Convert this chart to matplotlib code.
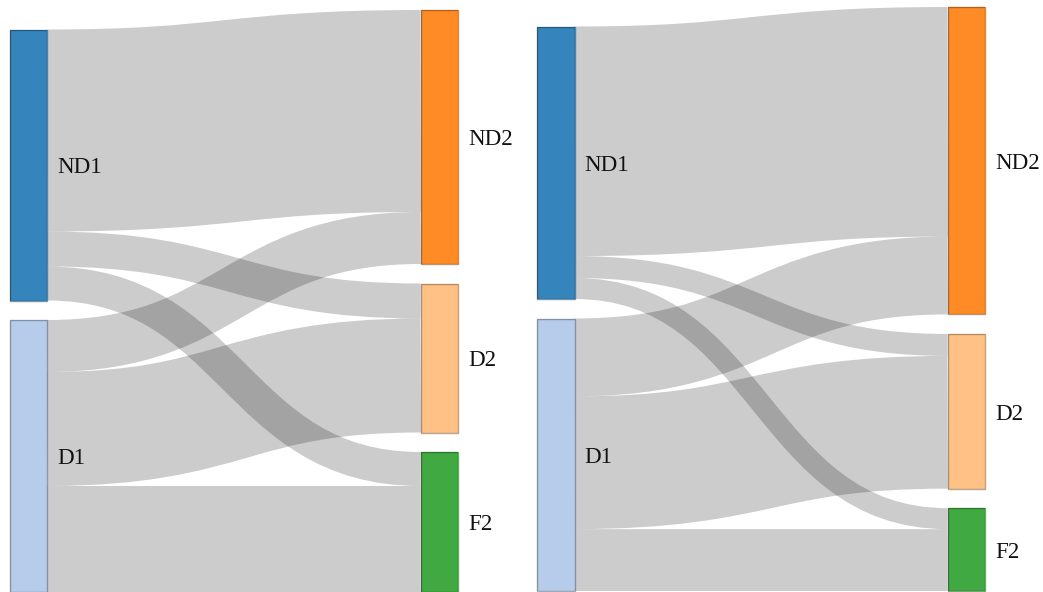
import matplotlib
matplotlib.use("Agg")
import matplotlib.pyplot as plt
from matplotlib.path import Path
from matplotlib.patches import PathPatch, Rectangle
from matplotlib.colors import to_rgb

# ---- data ---------------------------------------------------------------
source_nodes = ["ND1", "D1"]
target_nodes = ["ND2", "D2", "F2"]
link_sources = ["ND1", "ND1", "ND1", "D1", "D1", "D1"]
link_targets = ["ND2", "D2", "F2", "ND2", "D2", "F2"]
flows_first = [202, 35, 34, 52, 114, 106]
flows_second = [230, 22, 21, 78, 133, 62]

node_colors = {
    "ND1": "#1f77b4",
    "D1": "#aec7e8",
    "ND2": "#ff7f0e",
    "D2": "#ffbb78",
    "F2": "#2ca02c",
}

# ---- layout -------------------------------------------------------------
W, H, DPI = 1043, 592, 100
NODE_W = 37.5
PAD = 19.5
FONT_PX = 23
panels = [
    dict(flows=flows_first, x0=9.5, x1=458.0, y0=10.0, y1=592.0),
    dict(flows=flows_second, x0=537.0, x1=985.0, y0=7.0, y1=591.0),
]

fig = plt.figure(figsize=(W / DPI, H / DPI), dpi=DPI)
ax = fig.add_axes([0, 0, 1, 1])
ax.set_xlim(0, W)
ax.set_ylim(H, 0)
ax.axis("off")


def darker(c, k=2):
    f = 0.7 ** k
    return tuple(v * f for v in to_rgb(c))


def draw_sankey(flows, x0, x1, y0, y1):
    out_tot = {n: 0 for n in source_nodes}
    in_tot = {n: 0 for n in target_nodes}
    for s, t, v in zip(link_sources, link_targets, flows):
        out_tot[s] += v
        in_tot[t] += v

    # vertical scale so the target column fills the extent
    ky = (y1 - y0 - PAD * (len(target_nodes) - 1)) / sum(in_tot.values())

    # target column stacked from the top
    ypos = {}
    y = y0
    for n in target_nodes:
        ypos[n] = (y, y + in_tot[n] * ky)
        y += in_tot[n] * ky + PAD
    # source column aligned to the bottom
    y = y1
    for n in reversed(source_nodes):
        ypos[n] = (y - out_tot[n] * ky, y)
        y -= out_tot[n] * ky + PAD

    xs = {n: x0 for n in source_nodes}
    xs.update({n: x1 - NODE_W for n in target_nodes})

    # links
    s_off = {n: ypos[n][0] for n in source_nodes}
    t_off = {n: ypos[n][0] for n in target_nodes}
    for s, t, v in zip(link_sources, link_targets, flows):
        w = v * ky
        ys = s_off[s] + w / 2
        yt = t_off[t] + w / 2
        s_off[s] += w
        t_off[t] += w
        xa = xs[s] + NODE_W
        xb = xs[t]
        xm = (xa + xb) / 2
        path = Path([(xa, ys), (xm, ys), (xm, yt), (xb, yt)],
                    [Path.MOVETO, Path.CURVE4, Path.CURVE4, Path.CURVE4])
        ax.add_patch(PathPatch(path, facecolor="none", edgecolor="black",
                               alpha=0.2, lw=w * 72 / DPI,
                               capstyle="butt", zorder=1))

    # nodes and labels
    for n in source_nodes + target_nodes:
        ya, yb = ypos[n]
        ax.add_patch(Rectangle((xs[n], ya), NODE_W, yb - ya,
                               facecolor=node_colors[n], alpha=0.9,
                               edgecolor="none", zorder=2))
        ax.add_patch(Rectangle((xs[n], ya), NODE_W, yb - ya,
                               facecolor="none", edgecolor=darker(node_colors[n]),
                               alpha=0.55, lw=1.0, zorder=3))
        ax.text(xs[n] + NODE_W + 10, (ya + yb) / 2 + 0.36 * FONT_PX, n,
                fontsize=FONT_PX * 72 / DPI, family="Liberation Serif",
                color="#111111", va="baseline", ha="left", zorder=4)


for p in panels:
    draw_sankey(p["flows"], p["x0"], p["x1"], p["y0"], p["y1"])

fig.savefig("out.png", dpi=DPI, facecolor="white")
